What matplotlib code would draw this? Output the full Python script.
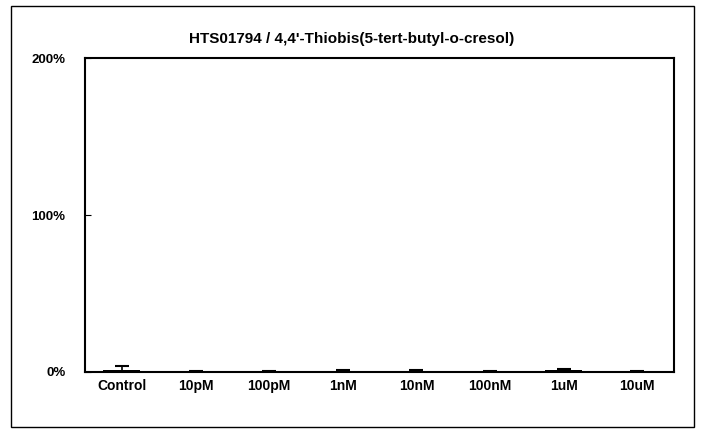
import matplotlib
matplotlib.use("Agg")
import matplotlib.pyplot as plt
from matplotlib.patches import Rectangle

categories = ["Control", "10pM", "100pM", "1nM", "10nM", "100nM", "1uM", "10uM"]
values = [1.0, 0.2, 0.2, 0.8, 0.8, 0.2, 1.0, 0.3]
errors = [2.8, 0.5, 0.5, 0.6, 0.6, 0.5, 0.8, 0.3]

fig = plt.figure(figsize=(7.03, 4.30), dpi=100)
fig.patches.append(Rectangle((0.015, 0.006), 0.972, 0.98, transform=fig.transFigure,
                             fill=False, edgecolor="black", linewidth=1.0))

ax = fig.add_axes([0.121, 0.135, 0.838, 0.730])
x = range(len(categories))
ax.bar(x, values, width=0.5, color="black")
ax.errorbar(x, values, yerr=errors, fmt="none", ecolor="black", capsize=5, elinewidth=1.2, capthick=1.5)

ax.set_ylim(0, 200)
ax.set_xlim(-0.5, len(categories) - 0.5)
ax.set_yticks([0, 100, 200])
ax.set_yticklabels(["0%", "100%", "200%"], fontsize=9.5, fontweight="bold", family="Liberation Sans")
ax.set_xticks(list(x))
ax.set_xticklabels(categories, fontsize=10, fontweight="bold", family="Liberation Sans")
ax.tick_params(axis="x", length=0, pad=5)
ax.tick_params(axis="y", length=4, direction="in", pad=14)
for s in ax.spines.values():
    s.set_linewidth(1.5)

fig.text(0.5, 0.91, "HTS01794 / 4,4'-Thiobis(5-tert-butyl-o-cresol)", fontsize=11, fontweight="bold",
         family="Liberation Sans", ha="center", va="center")

fig.savefig("out.png", dpi=100)
